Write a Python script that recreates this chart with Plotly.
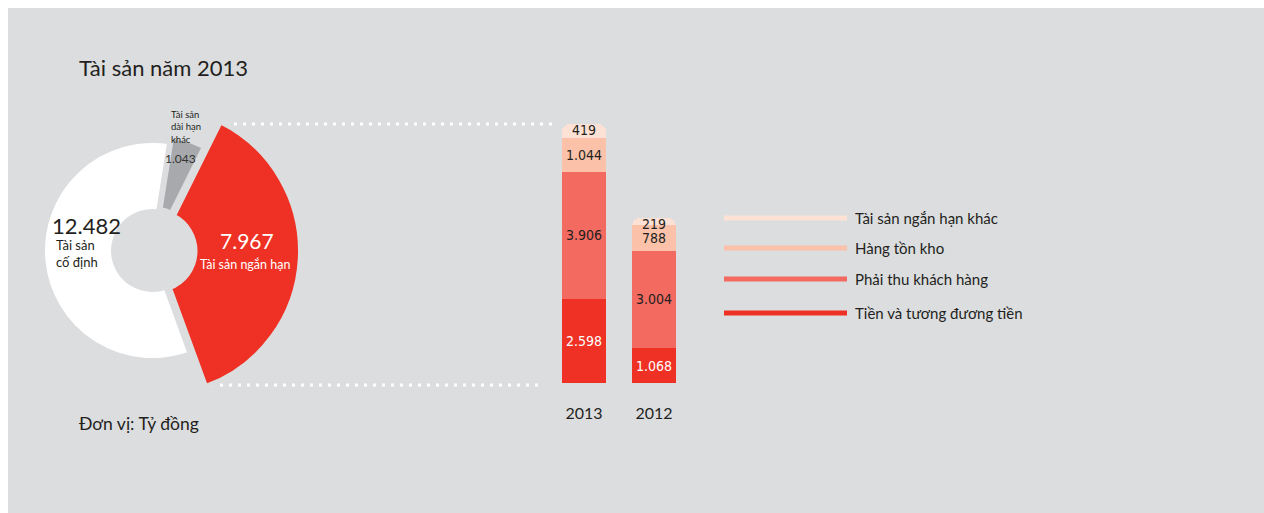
import plotly.graph_objects as go

# ---------------- data ----------------
donut_labels = ["Tài sản dài hạn khác", "Tài sản ngắn hạn", "Tài sản cố định"]
donut_values = [1043, 7967, 12482]

years = ["2013", "2012"]
series_names = ["Tiền và tương đương tiền", "Phải thu khách hàng", "Hàng tồn kho", "Tài sản ngắn hạn khác"]
cash = [2598, 1068]
receivables = [3906, 3004]
inventory = [1044, 788]
other_current = [419, 219]
series_values = [cash, receivables, inventory, other_current]
series_colors = ["#ee3124", "#f26a60", "#fbc2a9", "#fde1d5"]
label_colors = ["#ffffff", "#231f20", "#231f20", "#231f20"]

title_text = "Tài sản năm 2013"
unit_text = "Đơn vị: Tỷ đồng"

# ---------------- helpers ----------------
W, H = 1264, 513
BG = "#dcdddf"
DARK = "#231f20"
FONT = "Lato, 'Open Sans', sans-serif"
NARROW = "Liberation Sans Narrow, DejaVu Sans Condensed, Arial Narrow, sans-serif"


def X(px):
    return px / W


def Y(py):
    return (H - py) / H


def vn(v):
    return f"{v:,}".replace(",", ".")


fig = go.Figure()

# ---------------- donut (one trace per visible slice so radii can differ) ----------------
def pie_trace(cx, cy, r, visible_idx, color):
    colors = ["rgba(0,0,0,0)"] * len(donut_values)
    widths = [0] * len(donut_values)
    colors[visible_idx] = color
    widths[visible_idx] = 5
    return go.Pie(
        labels=donut_labels, values=donut_values, sort=False, direction="clockwise",
        rotation=9, hole=39 / r, textinfo="none", hoverinfo="skip", showlegend=False,
        marker=dict(colors=colors, line=dict(color=BG, width=widths)),
        domain=dict(x=[X(cx - r), X(cx + r)], y=[Y(cy + r), Y(cy - r)]),
    )


fig.add_trace(pie_trace(152.5, 250.5, 110, 2, "#ffffff"))
fig.add_trace(pie_trace(154, 248, 113, 0, "#a7a9ac"))
fig.add_trace(pie_trace(156, 251, 144.5, 1, "#ee3124"))

# ---------------- stacked bars ----------------
for name, vals, col in zip(series_names, series_values, series_colors):
    fig.add_trace(go.Bar(
        x=years, y=vals, name=name, marker=dict(color=col, line=dict(width=0)),
        width=0.63, hoverinfo="skip", showlegend=False, xaxis="x", yaxis="y",
    ))

annotations = []
n_series = len(series_values)
for i, yr in enumerate(years):
    base = 0
    for s, (vals, tc) in enumerate(zip(series_values, label_colors)):
        v = vals[i]
        is_top = s == n_series - 1
        annotations.append(dict(
            x=i, y=(base + v) if is_top else (base + v / 2), xref="x", yref="y",
            yshift=-6 if is_top else 0, text=vn(v), showarrow=False,
            font=dict(family=NARROW, size=14, color=tc), xanchor="center", yanchor="middle",
        ))
        base += v

total_2013 = sum(v[0] for v in series_values)

# ---------------- text ----------------
annotations += [
    dict(x=X(77), y=Y(67), xref="paper", yref="paper", text=title_text, showarrow=False,
         xanchor="left", yanchor="middle", font=dict(family=FONT, size=22, color=DARK)),
    dict(x=X(77), y=Y(423), xref="paper", yref="paper", text=unit_text, showarrow=False,
         xanchor="left", yanchor="middle", font=dict(family=FONT, size=17.5, color=DARK)),
    dict(x=X(50), y=Y(225), xref="paper", yref="paper", text=vn(donut_values[2]), showarrow=False,
         xanchor="left", yanchor="middle", font=dict(family=FONT, size=22, color=DARK)),
    dict(x=X(54), y=Y(253), xref="paper", yref="paper", text="Tài sản<br>cố định", showarrow=False,
         xanchor="left", yanchor="middle", align="left", font=dict(family=FONT, size=13, color=DARK)),
    dict(x=X(247), y=Y(240), xref="paper", yref="paper", text=vn(donut_values[1]), showarrow=False,
         xanchor="center", yanchor="middle", font=dict(family=FONT, size=21, color="#ffffff")),
    dict(x=X(245), y=Y(264), xref="paper", yref="paper", text="Tài sản ngắn hạn", showarrow=False,
         xanchor="center", yanchor="middle", font=dict(family=FONT, size=12.5, color="#ffffff")),
    dict(x=X(169), y=Y(127), xref="paper", yref="paper", text="Tài sản<br>dài hạn<br>khác", showarrow=False,
         xanchor="left", yanchor="middle", align="left", font=dict(family=FONT, size=9.5, color=DARK)),
    dict(x=X(180), y=Y(158), xref="paper", yref="paper", text=vn(donut_values[0]), showarrow=False,
         xanchor="center", yanchor="middle", font=dict(family=FONT, size=12, color="#333333")),
]

# legend (custom: thick bar + label)
legend_y = [218, 248, 279, 313]
for k, (name, col) in enumerate(zip(series_names[::-1], series_colors[::-1])):
    annotations.append(dict(
        x=X(853), y=Y(legend_y[k]), xref="paper", yref="paper", text=name, showarrow=False,
        xanchor="left", yanchor="middle", font=dict(family=FONT, size=15, color=DARK)))

shapes = [
    # background panel
    dict(type="rect", xref="paper", yref="paper", x0=X(8), x1=X(W), y0=Y(H), y1=Y(8),
         fillcolor=BG, line=dict(width=0), layer="below"),
    # donut hole
    dict(type="circle", xref="paper", yref="paper", x0=X(153 - 39), x1=X(153 + 39),
         y0=Y(250 + 39), y1=Y(250 - 39), fillcolor=BG, line=dict(width=0), layer="above"),
    # dotted connectors
    dict(type="line", xref="paper", yref="y", x0=X(225), x1=X(558), y0=total_2013, y1=total_2013,
         line=dict(color="#ffffff", width=3, dash="3px,6px"), layer="below"),
    dict(type="line", xref="paper", yref="paper", x0=X(211), x1=X(540), y0=Y(385), y1=Y(385),
         line=dict(color="#ffffff", width=3, dash="3px,6px"), layer="below"),
    # bar baseline
    dict(type="rect", xref="paper", yref="y", x0=X(541), x1=X(700), y0=0, y1=-5,
         ysizemode="pixel", yanchor=0, fillcolor="#ffffff", line=dict(width=0), layer="above"),
]
for k, col in enumerate(series_colors[::-1]):
    shapes.append(dict(type="line", xref="paper", yref="paper", x0=X(724), x1=X(847),
                       y0=Y(legend_y[k]), y1=Y(legend_y[k]), line=dict(color=col, width=5)))

fig.update_layout(
    width=W, height=H, margin=dict(l=0, r=0, t=0, b=0),
    paper_bgcolor="#ffffff", plot_bgcolor="rgba(0,0,0,0)",
    barmode="stack", bargap=0, barcornerradius=8,
    showlegend=False,
    xaxis=dict(domain=[X(542), X(696)], range=[-0.6, 1.6], type="category",
               categoryorder="array", categoryarray=years, showgrid=False, zeroline=False,
               showline=False, ticks="outside", ticklen=16, tickcolor="rgba(0,0,0,0)",
               tickfont=dict(family=FONT, size=16, color=DARK), fixedrange=True),
    yaxis=dict(domain=[Y(383), Y(100)], range=[0, 283 / 0.0325], showgrid=False, zeroline=False,
               showline=False, showticklabels=False, fixedrange=True),
    shapes=shapes, annotations=annotations,
)

fig.write_html(
    "out.html",
    config={"displayModeBar": False},
    post_script="document.body.style.margin='0';document.body.style.overflow='hidden';",
)
